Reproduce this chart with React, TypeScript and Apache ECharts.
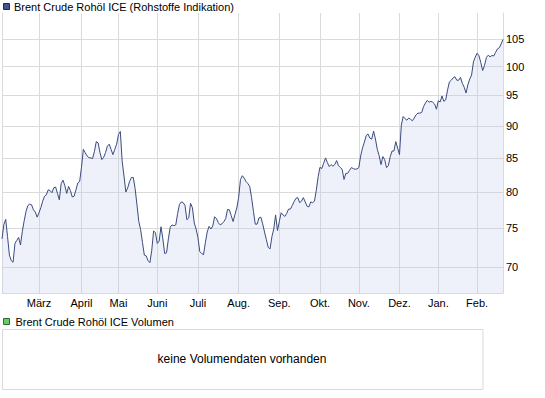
import React, { useEffect, useRef } from "react";
import * as echarts from "echarts";

// ---- data ----
const seriesName = "Brent Crude Rohöl ICE (Rohstoffe Indikation)";
const volumeName = "Brent Crude Rohöl ICE Volumen";
const noVolumeText = "keine Volumendaten vorhanden";

const startDate = "2010-02-01";
const holidays = ["2010-04-02", "2010-04-05", "2010-12-27", "2010-12-28"];

const monthLabels = ["Jan.", "Feb.", "März", "April", "Mai", "Juni", "Juli", "Aug.", "Sep.", "Okt.", "Nov.", "Dez."];

const yTicks = [70, 75, 80, 85, 90, 95, 100, 105];
const yMin = 66.84;
const yMax = 110;

const prices = [
  73.6, 75.5, 76.2, 73.9, 71.5, 70.8, 70.6, 73.0, 73.4, 73.8,
  72.8, 74.6, 76.0, 77.3, 78.1, 78.3, 78.2, 77.5, 77.2, 76.5,
  77.1, 77.8, 78.7, 79.4, 79.6, 80.3, 80.2, 79.9, 80.6, 80.7,
  79.8, 78.9, 81.2, 81.7, 80.9, 79.8, 80.8, 80.2, 79.3, 79.4,
  80.3, 81.3, 81.5, 83.6, 86.3, 85.8, 85.3, 85.05, 85.0, 84.9,
  86.0, 87.5, 87.3, 85.8, 84.75, 85.1, 85.8, 86.8, 87.1, 86.3,
  85.5, 86.3, 87.1, 88.6, 89.1, 84.5, 82.3, 80.0, 80.6, 81.5,
  82.1, 82.1, 80.5, 78.2, 75.9, 74.8, 73.1, 71.5, 71.4, 70.8,
  70.55, 72.1, 74.65, 74.4, 73.0, 73.3, 75.2, 73.6, 71.7, 71.8,
  73.6, 75.15, 75.45, 75.35, 75.45, 77.0, 78.25, 78.6, 78.5, 78.1,
  76.15, 76.4, 78.4, 77.8, 75.7, 74.9, 73.75, 71.95, 71.7, 71.55,
  73.1, 74.5, 75.25, 74.9, 75.3, 76.55, 76.3, 75.75, 75.45, 75.6,
  75.9, 76.3, 77.55, 77.5, 76.7, 75.9, 76.85, 77.75, 79.2, 81.8,
  82.35, 82.0, 81.5, 81.2, 80.8, 79.2, 77.3, 75.55, 75.55, 76.4,
  76.5, 75.6, 74.5, 73.5, 72.5, 72.3, 73.9, 74.9, 76.8, 74.7,
  75.9, 77.1, 76.8, 76.6, 77.0, 77.6, 77.6, 78.1, 78.65, 79.1,
  79.2, 78.5, 78.7, 79.2, 78.6, 78.0, 77.9, 78.6, 78.5, 78.7,
  80.2, 82.2, 83.6, 83.4, 84.2, 85.0, 84.3, 83.7, 84.0, 83.75,
  84.0, 84.6, 83.85, 83.55, 83.3, 81.8, 82.7, 82.7, 83.15, 83.55,
  83.4, 83.3, 83.35, 83.55, 85.3, 86.5, 87.4, 88.45, 88.7, 88.05,
  87.9, 89.15, 87.9, 86.3, 85.35, 84.0, 85.2, 84.75, 83.55, 83.85,
  85.2, 86.05, 86.05, 87.5, 86.5, 85.5, 90.1, 91.5, 91.15, 90.9,
  91.25, 91.05, 90.8, 91.25, 91.8, 92.05, 92.05, 92.15, 93.1, 93.7,
  94.15, 93.85, 94.0, 93.85, 93.55, 92.7, 94.1, 93.9, 94.9, 94.0,
  94.25, 95.9, 97.3, 97.6, 98.0, 98.2, 97.6, 97.6, 98.1, 97.05,
  96.4, 95.4, 96.8, 97.8, 98.5, 100.8, 101.7, 102.4, 101.95, 100.7,
  99.3, 100.2, 101.6, 102.05, 101.75, 102.0, 101.9, 102.55, 103.2, 103.4,
  104.1, 104.95,
];

// trading days (categories)
function buildDates(n: number): string[] {
  const out: string[] = [];
  const d = new Date(startDate + "T00:00:00Z");
  while (out.length < n) {
    const wd = d.getUTCDay();
    const s = d.toISOString().slice(0, 10);
    if (wd !== 0 && wd !== 6 && holidays.indexOf(s) < 0) out.push(s);
    d.setUTCDate(d.getUTCDate() + 1);
  }
  return out;
}
const dates = buildDates(prices.length);
const isMonthStart = (i: number) => i > 0 && dates[i].slice(0, 7) !== dates[i - 1].slice(0, 7);

const FONT = "'Liberation Sans', Arial, sans-serif";
const GRID_COLOR = "#dadada";

export default function App() {
  const ref = useRef<HTMLDivElement>(null);
  useEffect(() => {
    if (!ref.current) return;
    const chart = echarts.init(ref.current, undefined, { renderer: "svg" });
    chart.setOption({
      animation: false,
      backgroundColor: "#ffffff",
      textStyle: { fontFamily: FONT },
      grid: { left: 2, right: 42, top: 13, bottom: 105, containLabel: false },
      xAxis: {
        type: "category",
        data: dates,
        boundaryGap: false,
        axisLine: { show: true, onZero: false, lineStyle: { color: GRID_COLOR } },
        axisTick: { show: false },
        axisLabel: {
          interval: (i: number) => isMonthStart(i),
          formatter: (v: string) => monthLabels[parseInt(v.slice(5, 7), 10) - 1],
          color: "#000",
          fontSize: 11,
          fontFamily: FONT,
          margin: 4,
        },
        splitLine: {
          show: true,
          interval: (i: number) => isMonthStart(i),
          lineStyle: { color: GRID_COLOR, width: 1 },
        },
      },
      yAxis: [
        {
          type: "log",
          position: "right",
          min: yMin,
          max: yMax,
          axisLine: { show: true, lineStyle: { color: GRID_COLOR } },
          axisTick: { show: false },
          axisLabel: { show: false },
          splitLine: { show: false },
        },
        {
          type: "log",
          position: "left",
          min: yMin,
          max: yMax,
          axisLine: { show: true, lineStyle: { color: GRID_COLOR } },
          axisTick: { show: false },
          axisLabel: { show: false },
          splitLine: { show: false },
        },
      ],
      series: [
        {
          name: seriesName,
          type: "line",
          data: prices,
          yAxisIndex: 0,
          showSymbol: false,
          symbol: "none",
          z: 3,
          lineStyle: { color: "#3a4c7e", width: 1 },
          areaStyle: { color: "#c0cdeb", opacity: 0.27, origin: "start" },
          markLine: {
            silent: true,
            symbol: "none",
            z: 1,
            animation: false,
            lineStyle: { color: GRID_COLOR, type: "solid", width: 1 },
            label: {
              show: true,
              position: "end",
              distance: 3,
              color: "#000",
              fontSize: 11,
              fontFamily: FONT,
              formatter: (p: any) => String(p.value),
            },
            emphasis: { disabled: true },
            data: yTicks.map((v) => ({ yAxis: v })),
          },
        },
      ],
      graphic: [
        {
          type: "rect",
          shape: { x: 3.5, y: 3.5, width: 6, height: 6 },
          style: { fill: "#42568c", stroke: "#1e2a50", lineWidth: 1 },
        },
        {
          type: "text",
          x: 14,
          y: 7,
          style: { text: seriesName, fontSize: 11, fontFamily: FONT, fill: "#000", verticalAlign: "middle" },
        },
        {
          type: "rect",
          shape: { x: 3.5, y: 318.5, width: 6, height: 6 },
          style: { fill: "#66cc66", stroke: "#2e6b2e", lineWidth: 1 },
        },
        {
          type: "text",
          x: 15.5,
          y: 322,
          style: { text: volumeName, fontSize: 11, fontFamily: FONT, fill: "#000", verticalAlign: "middle" },
        },
        {
          type: "rect",
          shape: { x: 2.5, y: 329.5, width: 480.5, height: 60 },
          style: { fill: "none", stroke: GRID_COLOR, lineWidth: 1 },
        },
        {
          type: "text",
          x: 242,
          y: 359,
          style: { text: noVolumeText, fontSize: 12, fontFamily: FONT, fill: "#000", align: "center", verticalAlign: "middle" },
        },
      ],
    });
    return () => chart.dispose();
  }, []);
  return (
    <div
      ref={ref}
      style={{ position: "fixed", left: 0, top: 0, width: 545, height: 398 }}
    />
  );
}
